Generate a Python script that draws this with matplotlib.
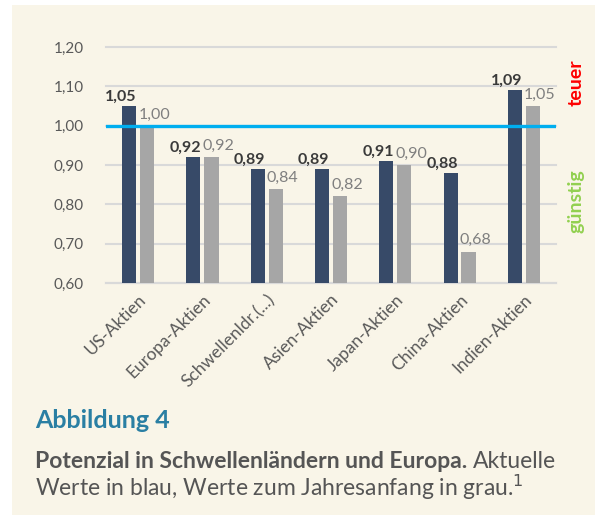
import numpy as np
import matplotlib.pyplot as plt
from matplotlib.patches import Rectangle

# Daten
kategorien = ['US-Aktien', 'Europa-Aktien', 'Schwellenldr.(...)', 'Asien-Aktien',
              'Japan-Aktien', 'China-Aktien', 'Indien-Aktien']
aktuell = [1.05, 0.92, 0.89, 0.89, 0.91, 0.88, 1.09]
jahresanfang = [1.00, 0.92, 0.84, 0.82, 0.90, 0.68, 1.05]
yticks = [0.60, 0.70, 0.80, 0.90, 1.00, 1.10, 1.20]

bg = '#F9F5E8'
dunkel = '#374A68'
grau = '#A6A6A6'
textgrau = '#595959'

plt.rcParams['font.family'] = ['Lato', 'DejaVu Sans']

fig = plt.figure(figsize=(5.95, 5.15), dpi=100)
fig.patch.set_facecolor('white')
fig.add_artist(Rectangle((12/595, 0), 1, 1 - 5/515, transform=fig.transFigure,
                         facecolor=bg, edgecolor='none', zorder=-10))

ax = fig.add_axes([106/595, 1 - 283/515, 450/595, 236/515])
ax.patch.set_alpha(0)

x = np.arange(len(kategorien))
w = 0.22
off = 0.14
ax.bar(x - off, [a - 0.6 for a in aktuell], w, bottom=0.6, color=dunkel, zorder=3)
ax.bar(x + off, [b - 0.6 for b in jahresanfang], w, bottom=0.6, color=grau, zorder=3)

for i in range(len(kategorien)):
    ax.annotate(f'{aktuell[i]:.2f}'.replace('.', ','), (x[i] - off, aktuell[i]),
                xytext=(-6, 1.5), textcoords='offset points', ha='center', va='bottom',
                fontsize=11.5, fontweight='bold', color='#3A3A3A')
    ax.annotate(f'{jahresanfang[i]:.2f}'.replace('.', ','), (x[i] + off, jahresanfang[i]),
                xytext=(5, 3), textcoords='offset points', ha='center', va='bottom',
                fontsize=11.5, color='#7F7F7F')

ax.axhline(1.0, color='#00AEEF', lw=2.4, zorder=4)

ax.set_xlim(-0.5, len(kategorien) - 0.5)
ax.set_ylim(0.6, 1.2)
ax.set_yticks(yticks)
ax.set_yticklabels([f'{v:.2f}'.replace('.', ',') for v in yticks], fontsize=11, color=textgrau)
ax.yaxis.grid(True, color='#D9D9D9', lw=1.5, zorder=0)
for g in ax.get_ygridlines():
    g.set_clip_on(False)
ax.tick_params(axis='y', length=0, pad=16)
ax.tick_params(axis='x', length=0, pad=6)
ax.set_xticks(x)
ax.set_xticklabels(kategorien, rotation=45, ha='right', rotation_mode='anchor',
                   fontsize=12.5, color=textgrau)
for s in ['top', 'right', 'left']:
    ax.spines[s].set_visible(False)
ax.spines['bottom'].set_color('#D9D9D9')
ax.spines['bottom'].set_linewidth(1.5)

fig.text(576/595, 1 - 83/515, 'teuer', rotation=90, ha='center', va='center',
         fontsize=14, fontweight='bold', color='#FF0000')
fig.text(576/595, 1 - 201/515, 'günstig', rotation=90, ha='center', va='center',
         fontsize=14, fontweight='bold', color='#92D050')

fig.text(35/595, 1 - 420/515, 'Abbildung 4', ha='left', va='center',
         fontsize=18, fontweight='bold', color='#2A7FA3')
fett = fig.text(35/595, 1 - 461/515, 'Potenzial in Schwellenländern und Europa.', ha='left',
                va='center', fontsize=16.5, fontweight='bold', color='#555555')
fig.canvas.draw()
bb = fett.get_window_extent(fig.canvas.get_renderer())
fig.text(bb.x1 / fig.bbox.width + 6/595, 1 - 461/515, 'Aktuelle', ha='left',
         va='center', fontsize=16.5, color='#555555')
fig.text(35/595, 1 - 487/515, 'Werte in blau, Werte zum Jahresanfang in grau.$^1$',
         ha='left', va='center', fontsize=16.5, color='#555555')

fig.savefig('out.png', dpi=100, facecolor=fig.get_facecolor())
